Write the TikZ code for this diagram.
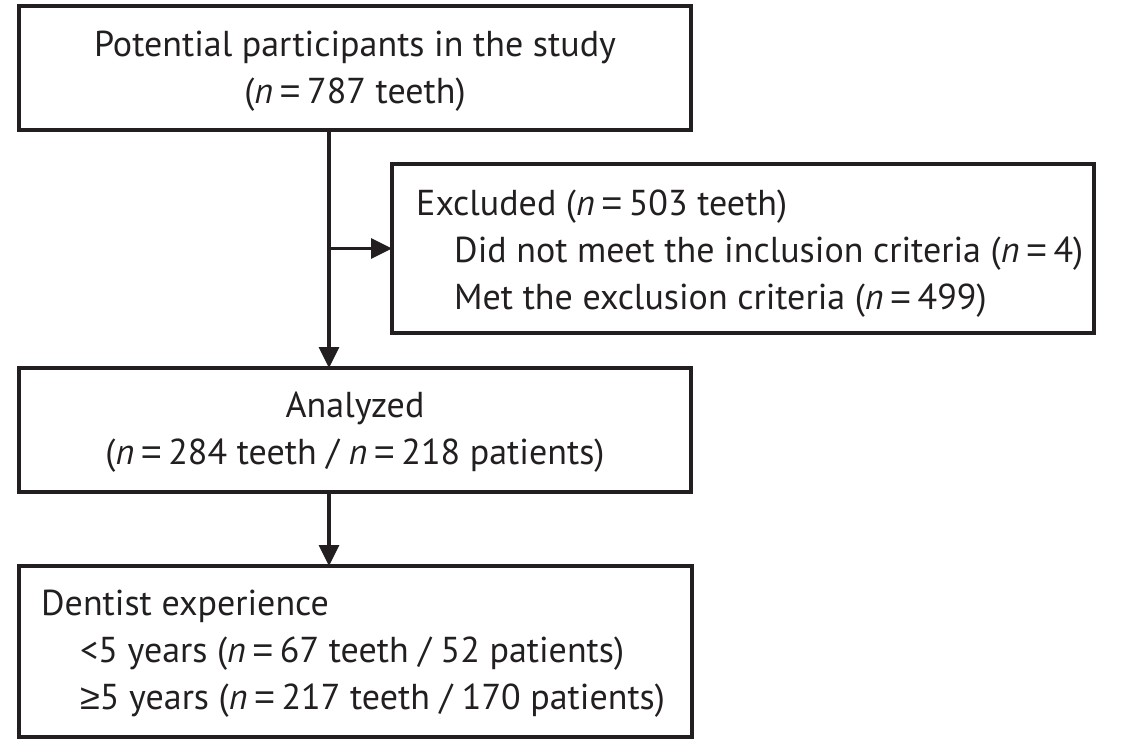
\documentclass[tikz,border=0pt]{standalone}
\usepackage{fontspec}
\setmainfont{PT Sans}
\newfontfamily\symfont{Liberation Sans}
\usetikzlibrary{arrows.meta}
\definecolor{ink}{RGB}{35,31,32}
\newcommand{\nn}{\textit{n}\hspace{0.18em}{\symfont =}\hspace{0.18em}}
\tikzset{
  box/.style={draw=ink, line width=3.2pt, rectangle, inner sep=0pt, outer sep=0pt, anchor=north west},
  txt/.style={text=ink, inner sep=0pt, font=\fontsize{36}{44}\selectfont},
  ctxt/.style={txt, anchor=base},
  ltxt/.style={txt, anchor=base west},
  flow/.style={draw=ink, line width=3.2pt, -{Triangle[length=21pt,width=20pt]}}
}
\begin{document}
\begin{tikzpicture}[x=1pt,y=-1pt]
\useasboundingbox (0,0) rectangle (1129,745);
% boxes
\node[box, minimum width=672pt, minimum height=124pt] (b1) at (19,6) {};
\node[box, minimum width=702pt, minimum height=169pt] (b2) at (392,164) {};
\node[box, minimum width=672pt, minimum height=124pt] (b3) at (19,368) {};
\node[box, minimum width=673pt, minimum height=171pt] (b4) at (19,566) {};
% texts
\node[ctxt] (t1a) at (355,56) {Potential participants in the study};
\node[ctxt] (t1b) at (355,103) {(\nn787 teeth)};
\node[ltxt] (t2a) at (416,215) {Excluded (\nn503 teeth)};
\node[ltxt] (t2b) at (454,262) {Did not meet the inclusion criteria (\nn4)};
\node[ltxt] (t2c) at (454,309) {Met the exclusion criteria (\nn499)};
\node[ctxt] (t3a) at (355,417) {Analyzed};
\node[ctxt] (t3b) at (355,464) {(\nn284 teeth / \nn218 patients)};
\node[ltxt] (t4a) at (41,615) {Dentist experience};
\node[ltxt] (t4b) at (80,662) {<5 years (\nn67 teeth / 52 patients)};
\node[ltxt] (t4c) at (80,709) {{\symfont ≥}5 years (\nn217 teeth / 170 patients)};
% connectors
\coordinate (top) at (329,130);
\coordinate (split) at (329,248.5);
\draw[flow] (top) -- (b3.north -| top);
\draw[flow] (split) -- (b2.west);
\draw[flow] (b3.south -| top) -- (b4.north -| top);
\end{tikzpicture}
\end{document}
